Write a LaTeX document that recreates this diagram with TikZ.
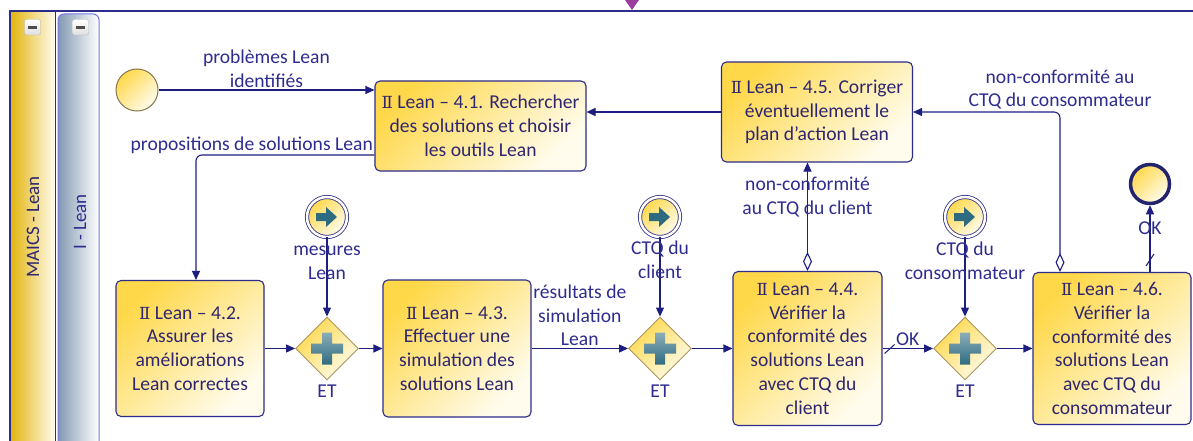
\documentclass[tikz,border=0pt]{standalone}
\usepackage{fontspec}
\setmainfont{Carlito}
\newfontfamily\romfont[Scale=0.85]{DejaVu Serif}
\usepackage{tikz}
\usetikzlibrary{arrows.meta, positioning, calc, shapes.geometric}

\definecolor{flowblue}{HTML}{1E1E80}
\definecolor{taskline}{HTML}{2C2C8A}
\definecolor{txtcol}{HTML}{2E2670}
\definecolor{lblcol}{HTML}{2F2C90}
\definecolor{gold}{HTML}{FFD84A}
\definecolor{cream}{HTML}{FFFCEE}
\definecolor{gateline}{HTML}{A89560}
\definecolor{plusteal}{HTML}{2F6B80}
\definecolor{poolgold}{HTML}{E2B40C}
\definecolor{lanegrey}{HTML}{8499B2}
\definecolor{markpurple}{HTML}{9A3E9E}

\newcommand{\rII}{{\romfont Ⅱ}}

\begin{document}
\begin{tikzpicture}[
    x=1pt, y=-1pt,
    font=\fontsize{19.6}{23.8}\selectfont,
    %% BPMN tasks
    task/.style = {
      draw=taskline, line width=1.1pt, rounded corners=5pt,
      top color=gold, bottom color=cream, shading angle=45,
      align=center, text=txtcol, inner sep=2pt},
    %% parallel gateways
    gate/.style = {
      diamond, draw=gateline, line width=0.9pt,
      top color=gold, bottom color=cream, shading angle=45,
      minimum width=63pt, minimum height=63pt, inner sep=0pt},
    %% intermediate events
    evt/.style = {
      circle, draw=taskline, line width=0.8pt,
      double=white, double distance=2.5pt,
      top color=gold, bottom color=cream, shading angle=45,
      minimum size=40pt, inner sep=0pt},
    %% connectors
    flow/.style  = {-{Triangle[length=9pt, width=8pt]}, line width=1.1pt, flowblue},
    assoc/.style = {{Diamond[length=19pt, width=9pt, fill=white]}-{Triangle[length=9pt, width=8pt]},
                    line width=1.1pt, flowblue},
    lbl/.style   = {text=lblcol, align=center, inner sep=1pt},
  ]

    \fill[white] (0,0) rectangle (1193,441);
    \useasboundingbox (0,0) rectangle (1193,441);

    %% ── pool and lane headers ──────────────────────────────────────────────
    \shade[left color=poolgold, right color=cream] (10,11) rectangle (55,450);
    \draw[taskline, line width=1pt] (55,11) -- (55,450);
    \draw[taskline, line width=1.4pt] (10,450) -- (10,11) -- (1193,11);
    \draw[draw=lanegrey!40!blue!70, line width=1pt, rounded corners=6pt,
          left color=lanegrey, right color=white] (58,14) rectangle (99,455);
    \node[rotate=90, text=txtcol, font=\fontsize{19}{22}\selectfont] (poolname) at (33,227) {MAICS - Lean};
    \node[rotate=90, text=lblcol, font=\fontsize{19}{22}\selectfont] (lanename) at (80,222) {I - Lean};
    \foreach \mx in {32.5,80.5} {
      \draw[top color=white, bottom color=gray!25, draw=gray!55, rounded corners=2pt]
        (\mx-8,19.5) rectangle (\mx+8,35);
      \draw[line width=2.2pt, black!70] (\mx-4.5,27.5) -- (\mx+4.5,27.5);
    }
    \fill[markpurple] (625,0) -- (639,0) -- (632,10) -- cycle;

    %% ── tasks ──────────────────────────────────────────────────────────────
    \node[task, minimum width=211pt, minimum height=90pt]  (T41) at (480.5,126)
      {\rII{} Lean – 4.1. Rechercher\\des solutions et choisir\\les outils Lean};
    \node[task, minimum width=191pt, minimum height=100pt] (T45) at (817,112)
      {\rII{} Lean – 4.5. Corriger\\éventuellement le\\plan d’action Lean};
    \node[task, minimum width=148pt, minimum height=136pt] (T42) at (190,348.5)
      {\rII{} Lean – 4.2.\\Assurer les\\améliorations\\Lean correctes};
    \node[task, minimum width=148pt, minimum height=137pt] (T43) at (457,348.5)
      {\rII{} Lean – 4.3.\\Effectuer une\\simulation des\\solutions Lean};
    \node[task, minimum width=149pt, minimum height=154pt] (T44) at (807.5,348.5)
      {\rII{} Lean – 4.4.\\Vérifier la\\conformité des\\solutions Lean\\avec CTQ du\\client};
    \node[task, minimum width=158pt, minimum height=152pt] (T46) at (1112,348.5)
      {\rII{} Lean – 4.6.\\Vérifier la\\conformité des\\solutions Lean\\avec CTQ du\\consommateur};

    %% ── gateways and events ────────────────────────────────────────────────
    \node[gate] (G1) at (327,348.5) {};
    \node[gate] (G2) at (660,348.5) {};
    \node[gate] (G3) at (965,348.5) {};
    \node[lbl, below=3pt of G1] (et1) {ET};
    \node[lbl, below=3pt of G2] (et2) {ET};
    \node[lbl, below=3pt of G3] (et3) {ET};

    \node[evt] (E1) at (327,217) {};
    \node[evt] (E2) at (660,217) {};
    \node[evt] (E3) at (965,217) {};

    \node[circle, draw=gateline!80!black, line width=1pt, minimum size=42pt,
          top color=gold, bottom color=cream, shading angle=45] (S) at (137,90) {};
    \node[circle, draw=taskline!80!black, line width=3.5pt, minimum size=39pt,
          top color=gold, bottom color=cream, shading angle=45] (End) at (1150,184) {};

    \foreach \g in {G1,G2,G3}
      \shade[top color=plusteal!55, bottom color=plusteal]
        ($(\g)+(-16,-5)$) rectangle ($(\g)+(16,5)$)
        ($(\g)+(-5,-16)$) rectangle ($(\g)+(5,16)$);
    \foreach \e in {E1,E2,E3}
      \fill[plusteal] ($(\e)+(-11,-4)$) -- ++(10,0) -- ++(0,-6) -- ++(11,10)
        -- ++(-11,10) -- ++(0,-6) -- ++(-10,0) -- cycle;

    %% ── sequence flows ─────────────────────────────────────────────────────
    \draw[flow] (S) -- (S -| T41.west)
      node[lbl, midway, above=1pt] {problèmes Lean\\identifiés};
    \draw[flow, rounded corners=6pt] ([yshift=-29pt]T41.west) -| ([xshift=6pt]T42.north)
      node[lbl, pos=0, above left] {propositions de solutions Lean};
    \draw[flow] (T45) -- (T45 -| T41.east);
    \draw[assoc, rounded corners=6pt] ([xshift=-52pt]T46.north) |- (T45)
      node[lbl, pos=0.5, above=1pt] {non-conformité au\\CTQ du consommateur};
    \draw[assoc] (T44.north) -- (T44.north |- T45.south)
      node[lbl, pos=0.68] {non-conformité\\au CTQ du client};

    \draw[flow] (T42) -- (G1);
    \draw[flow] (G1) -- (T43);
    \draw[flow] (T43) -- (G2) node[lbl, midway, above=1pt] {résultats de\\simulation\\Lean};
    \draw[flow] (G2) -- (T44);
    \draw[flow] (T44) -- (G3) node[lbl, midway, above=1pt] {OK};
    \draw[flow] (G3) -- (T46);

    \draw[flow] (E1) -- (G1) node[lbl, pos=0.32] {mesures\\Lean};
    \draw[flow] (E2) -- (G2) node[lbl, pos=0.28] {CTQ du\\client};
    \draw[flow] (E3) -- (G3) node[lbl, pos=0.3] {CTQ du\\consommateur};

    \coordinate (okfoot) at (End |- T46.north);
    \draw[flow] (okfoot) -- (End) node[lbl, pos=0.66] {OK};

    %% default-flow slashes
    \draw[flowblue, line width=1pt] ($(T44.east)+(2,5)$) -- ($(T44.east)+(12,-4)$);
    \draw[flowblue, line width=1pt] ($(okfoot)+(-4,-6)$) -- ($(okfoot)+(4,-18)$);

  \end{tikzpicture}
\end{document}
